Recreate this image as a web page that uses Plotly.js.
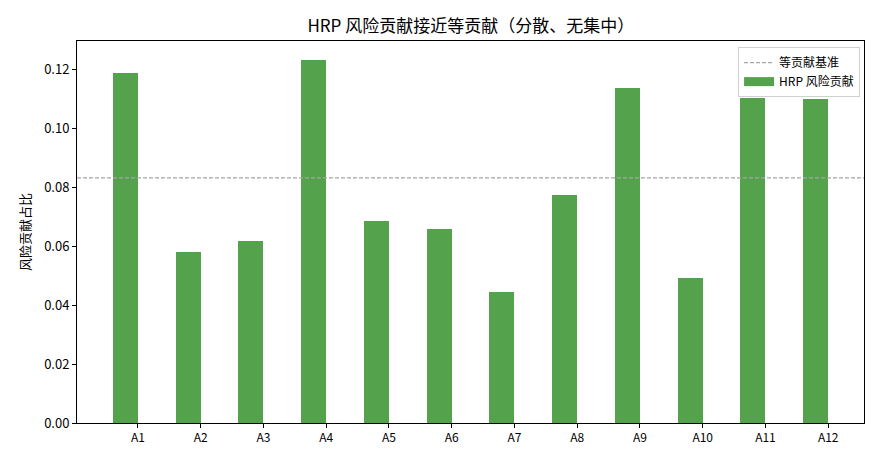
<!DOCTYPE html>
<html>
<head>
<meta charset="utf-8">
<script src="https://cdn.plot.ly/plotly-3.0.1.min.js"></script>
<style>html,body{margin:0;padding:0;background:#fff;}#chart{width:880px;height:462px;}</style>
</head>
<body>
<div id="chart"></div>
<script>
const categories = ["A1","A2","A3","A4","A5","A6","A7","A8","A9","A10","A11","A12"];
const hrpContribution = [0.1189,0.0581,0.0618,0.1233,0.0686,0.0659,0.0445,0.0774,0.1138,0.0493,0.1104,0.1101];
const equalContribution = 0.0833;
const xRange = [-0.97, 11.57];

const positions = categories.map((c, i) => i);
const barPositions = positions.map(p => p - 0.2);

const font = "'Noto Sans CJK SC', 'DejaVu Sans', sans-serif";
const green = '#55a24c';

const traces = [
  {
    type: 'bar',
    x: barPositions,
    y: hrpContribution,
    width: 0.4,
    name: 'HRP 风险贡献',
    marker: {color: green, line: {width: 0}},
    showlegend: false,
    hoverinfo: 'y'
  },
  {
    type: 'scatter',
    mode: 'lines',
    x: xRange,
    y: [equalContribution, equalContribution],
    name: '等贡献基准',
    line: {color: '#a6a6a6', width: 1.3, dash: '4px,2px'},
    legendrank: 1
  },
  {
    // legend entry for the bars (matplotlib-style wide patch)
    type: 'scatter',
    mode: 'lines',
    x: [null],
    y: [null],
    name: 'HRP 风险贡献',
    line: {color: green, width: 9},
    legendrank: 2
  }
];

const layout = {
  width: 880,
  height: 462,
  margin: {l: 77, r: 16, t: 41, b: 39},
  paper_bgcolor: '#fff',
  plot_bgcolor: '#fff',
  font: {family: font, color: '#000', size: 12},
  title: {text: 'HRP 风险贡献接近等贡献（分散、无集中）', x: 0.535, xanchor: 'center', y: 0.943, yanchor: 'middle', font: {size: 17, family: font, color: '#000'}},
  xaxis: {
    range: xRange,
    tickmode: 'array',
    tickvals: positions,
    ticktext: categories,
    ticks: 'outside', ticklen: 4, tickwidth: 1, tickcolor: '#000',
    showline: true, mirror: true, linecolor: '#000', linewidth: 1,
    showgrid: false, zeroline: false,
    tickfont: {size: 12, family: font}
  },
  yaxis: {
    range: [0, 0.1298],
    tickmode: 'array',
    tickvals: [0, 0.02, 0.04, 0.06, 0.08, 0.10, 0.12],
    ticktext: ['0.00','0.02','0.04','0.06','0.08','0.10','0.12'],
    ticks: 'outside', ticklen: 4, tickwidth: 1, tickcolor: '#000',
    showline: true, mirror: true, linecolor: '#000', linewidth: 1,
    showgrid: false, zeroline: false,
    tickfont: {size: 13, family: font},
    title: {text: '风险贡献占比', font: {size: 13, family: font}, standoff: 10}
  },
  showlegend: true,
  legend: {
    x: 0.995, xanchor: 'right', y: 0.984, yanchor: 'top',
    bgcolor: 'rgba(255,255,255,0.85)', bordercolor: '#d0d0d0', borderwidth: 1,
    font: {size: 12, family: font},
    itemwidth: 30,
    tracegroupgap: 0
  },
  bargap: 0
};

Plotly.newPlot('chart', traces, layout, {displayModeBar: false, staticPlot: true});
</script>
</body>
</html>
